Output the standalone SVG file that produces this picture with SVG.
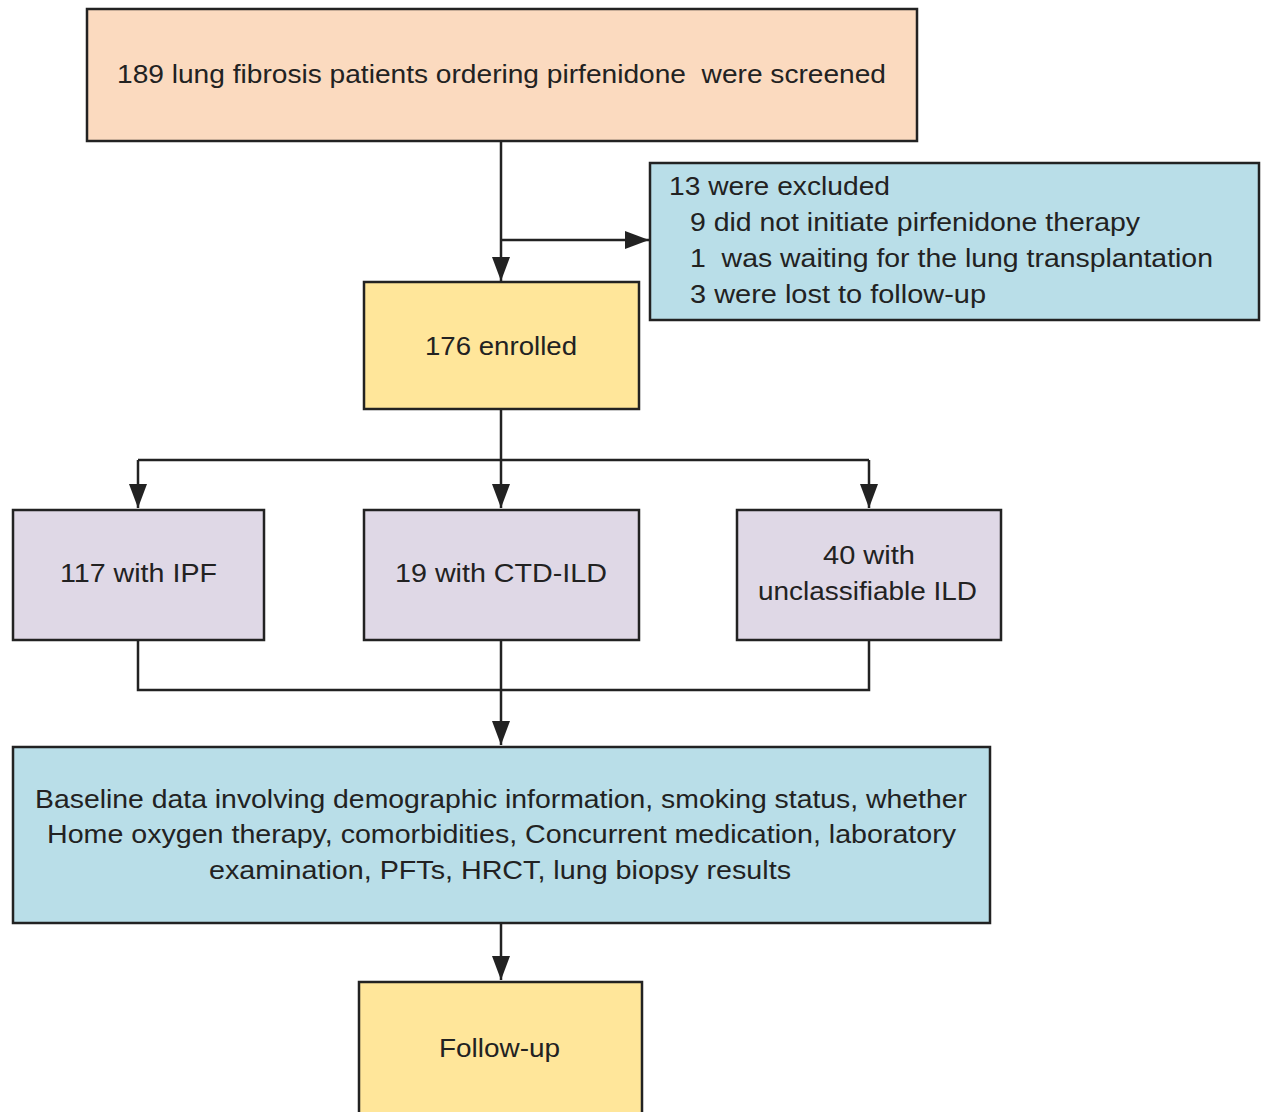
<svg xmlns="http://www.w3.org/2000/svg" width="1264" height="1112" viewBox="0 0 1264 1112">
<defs>
<style>
.box{stroke:#222;stroke-width:2.5}
.peach{fill:#FBDABF}
.blue{fill:#B9DEE8}
.yellow{fill:#FFE69A}
.purple{fill:#DFD8E6}
text{font-family:"Liberation Sans",Arial,sans-serif;font-size:26px;fill:#222}
.conn{fill:none;stroke:#222;stroke-width:2.5}
</style>
<marker id="a" viewBox="0 0 24 18" refX="24" refY="9" markerWidth="24" markerHeight="18" markerUnits="userSpaceOnUse" orient="auto">
<path d="M0,0 L24,9 L0,18 Z" fill="#222"/>
</marker>
</defs>
<rect width="1264" height="1112" fill="#fff"/>
<g id="connectors">
<path class="conn" d="M501,141 V281" marker-end="url(#a)"/>
<path class="conn" d="M501,240 H649" marker-end="url(#a)"/>
<path class="conn" d="M501,409 V460"/>
<path class="conn" d="M138,460 H869"/>
<path class="conn" d="M138,460 V508" marker-end="url(#a)"/>
<path class="conn" d="M501,460 V508" marker-end="url(#a)"/>
<path class="conn" d="M869,460 V508" marker-end="url(#a)"/>
<path class="conn" d="M138,640 V690 H869 V640"/>
<path class="conn" d="M501,640 V745" marker-end="url(#a)"/>
<path class="conn" d="M501,923 V980" marker-end="url(#a)"/>
</g>
<g id="screened">
<rect class="box peach" x="87" y="9" width="830" height="132"/>
<text x="117" y="83" textLength="769" lengthAdjust="spacingAndGlyphs" xml:space="preserve">189 lung fibrosis patients ordering pirfenidone  were screened</text>
</g>
<g id="excluded">
<rect class="box blue" x="650" y="163" width="609" height="157"/>
<text x="669" y="195" textLength="221" lengthAdjust="spacingAndGlyphs">13 were excluded</text>
<text x="690" y="231" textLength="450" lengthAdjust="spacingAndGlyphs">9 did not initiate pirfenidone therapy</text>
<text x="690" y="267" textLength="523" lengthAdjust="spacingAndGlyphs" xml:space="preserve">1  was waiting for the lung transplantation</text>
<text x="690" y="303" textLength="296" lengthAdjust="spacingAndGlyphs">3 were lost to follow-up</text>
</g>
<g id="enrolled">
<rect class="box yellow" x="364" y="282" width="275" height="127"/>
<text x="425" y="355" textLength="152" lengthAdjust="spacingAndGlyphs">176 enrolled</text>
</g>
<g id="ipf">
<rect class="box purple" x="13" y="510" width="251" height="130"/>
<text x="60" y="582" textLength="157" lengthAdjust="spacingAndGlyphs">117 with IPF</text>
</g>
<g id="ctd">
<rect class="box purple" x="364" y="510" width="275" height="130"/>
<text x="395" y="582" textLength="212" lengthAdjust="spacingAndGlyphs">19 with CTD-ILD</text>
</g>
<g id="unclass">
<rect class="box purple" x="737" y="510" width="264" height="130"/>
<text x="823" y="564" textLength="92" lengthAdjust="spacingAndGlyphs">40 with</text>
<text x="758" y="600" textLength="219" lengthAdjust="spacingAndGlyphs">unclassifiable ILD</text>
</g>
<g id="baseline">
<rect class="box blue" x="13" y="747" width="977" height="176"/>
<text x="35" y="808" textLength="932" lengthAdjust="spacingAndGlyphs">Baseline data involving demographic information, smoking status, whether</text>
<text x="47" y="843" textLength="909" lengthAdjust="spacingAndGlyphs">Home oxygen therapy, comorbidities, Concurrent medication, laboratory</text>
<text x="209" y="879" textLength="582" lengthAdjust="spacingAndGlyphs">examination, PFTs, HRCT, lung biopsy results</text>
</g>
<g id="followup">
<rect class="box yellow" x="359" y="982" width="283" height="140"/>
<text x="439" y="1057" textLength="121" lengthAdjust="spacingAndGlyphs">Follow-up</text>
</g>
</svg>
